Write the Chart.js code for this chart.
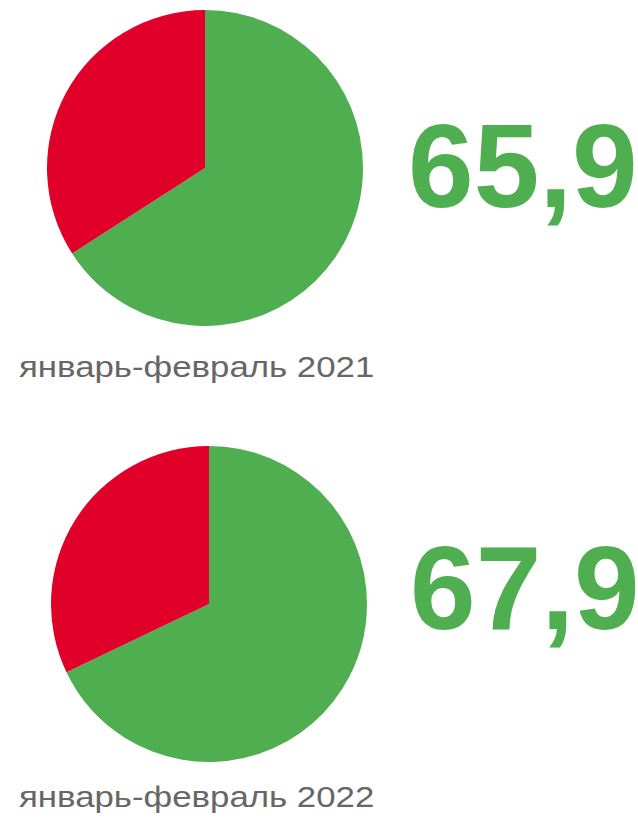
<!DOCTYPE html>
<html>
<head>
<meta charset="utf-8">
<script src="https://cdn.jsdelivr.net/npm/chart.js@4"></script>
<style>
  html, body { margin: 0; padding: 0; background: #ffffff; width: 638px; height: 823px; overflow: hidden; }
  .wrap { position: absolute; }
  .big { position: absolute; font-family: "Liberation Sans", Arial, sans-serif; font-weight: bold; color: #4FAE50; font-size: 118px; line-height: 118px; white-space: nowrap; }
  .lbl { position: absolute; font-family: "Liberation Sans", Arial, sans-serif; color: #666666; font-size: 29px; line-height: 29px; white-space: nowrap; transform: scaleX(1.2); transform-origin: 0 0; }
</style>
</head>
<body>
<div class="wrap" style="left:47px;top:10px;width:316px;height:316px;"><canvas id="c1" width="316" height="316"></canvas></div>
<div class="wrap" style="left:51px;top:446px;width:316px;height:316px;"><canvas id="c2" width="316" height="316"></canvas></div>
<div class="big" id="v1" style="left:408px;top:107px;"></div>
<div class="big" id="v2" style="left:410px;top:529px;"></div>
<div class="lbl" id="l1" style="left:19px;top:353px;"></div>
<div class="lbl" id="l2" style="left:19px;top:783px;"></div>
<script>
const periods = ["январь-февраль 2021", "январь-февраль 2022"];
const greenShare = [65.9, 67.9];
const redShare = [34.1, 32.1];
const shareText = ["65,9", "67,9"];
const colors = ["#4FAE50", "#E1002A"];

function makePie(id, i) {
  new Chart(document.getElementById(id), {
    type: 'pie',
    data: {
      labels: ["green", "red"],
      datasets: [{
        data: [greenShare[i], redShare[i]],
        backgroundColor: colors,
        borderWidth: 0
      }]
    },
    options: {
      responsive: false,
      animation: false,
      layout: { padding: 0 },
      plugins: { legend: { display: false }, tooltip: { enabled: false } }
    }
  });
}
makePie('c1', 0);
makePie('c2', 1);
document.getElementById('v1').textContent = shareText[0];
document.getElementById('v2').textContent = shareText[1];
document.getElementById('l1').textContent = periods[0];
document.getElementById('l2').textContent = periods[1];
</script>
</body>
</html>
